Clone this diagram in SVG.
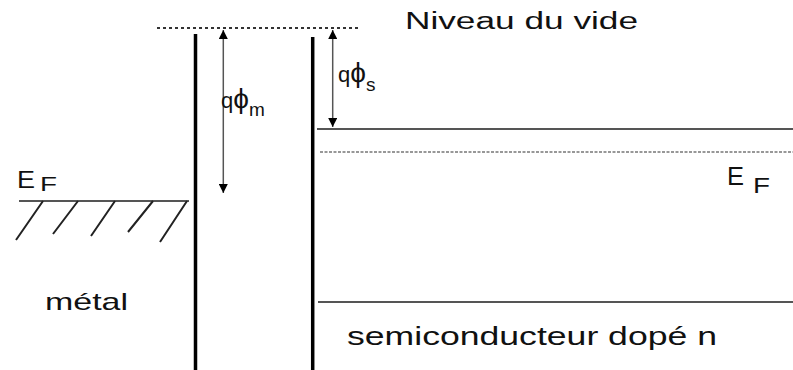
<svg xmlns="http://www.w3.org/2000/svg" width="793" height="370" viewBox="0 0 793 370">
<style>
text{font-family:"Liberation Sans","DejaVu Sans",sans-serif;fill:#111}
.wall{stroke:#000;stroke-width:3.5;fill:none}
.band{stroke:#555;stroke-width:2;fill:none}
.dot{stroke:#333;stroke-width:1.8;stroke-dasharray:3 3;fill:none}
.fdot{stroke:#777;stroke-width:1.6;stroke-dasharray:3 1.5;fill:none}
.arr{stroke:#555;stroke-width:1.5;fill:none;marker-start:url(#ah);marker-end:url(#ah)}
.hatch{stroke:#222;stroke-width:2;fill:none}
</style>
<defs>
<marker id="ah" viewBox="0 0 10 10" refX="10" refY="5" markerWidth="9" markerHeight="9" markerUnits="userSpaceOnUse" orient="auto-start-reverse">
<path d="M0,0 L10,5 L0,10 Z" fill="#000"/>
</marker>
</defs>
<rect width="793" height="370" fill="#fff"/>
<g id="vacuum">
<line class="dot" x1="157" y1="28" x2="358" y2="28"/>
<text x="405" y="29" font-size="23" textLength="233" lengthAdjust="spacingAndGlyphs">Niveau du vide</text>
</g>
<g id="metal">
<line class="wall" x1="195.5" y1="34" x2="195.5" y2="370"/>
<line class="band" x1="19" y1="201" x2="189" y2="201"/>
<path class="hatch" d="M43,201 L16,240 M78,201 L53,234 M115,201 L91,236 M153,201 L128,232 M187,201 L160,242"/>
<text x="17" y="188" font-size="23" textLength="18" lengthAdjust="spacingAndGlyphs">E</text>
<text x="40" y="191" font-size="20" textLength="17" lengthAdjust="spacingAndGlyphs">F</text>
<text x="45" y="310" font-size="24" textLength="83" lengthAdjust="spacingAndGlyphs">métal</text>
</g>
<g id="semiconductor">
<line class="wall" x1="312.7" y1="37" x2="312.7" y2="370"/>
<line class="band" x1="317" y1="129" x2="793" y2="129"/>
<line class="fdot" x1="320" y1="152" x2="793" y2="152"/>
<line class="band" x1="318" y1="302" x2="793" y2="302"/>
<text x="727" y="185" font-size="26" textLength="17" lengthAdjust="spacingAndGlyphs">E</text>
<text x="753" y="193" font-size="22" textLength="17" lengthAdjust="spacingAndGlyphs">F</text>
<text x="347" y="345" font-size="26" textLength="370" lengthAdjust="spacingAndGlyphs">semiconducteur dopé n</text>
</g>
<g id="connectors">
<line class="arr" x1="223.3" y1="30" x2="223.3" y2="193"/>
<line class="arr" x1="332.7" y1="30" x2="332.7" y2="127"/>
</g>
<g id="labels">
<text x="221" y="108" font-size="22">q<tspan font-size="28">ϕ</tspan><tspan font-size="19" dy="8">m</tspan></text>
<text x="338" y="82" font-size="22">q<tspan font-size="28">ϕ</tspan><tspan font-size="19" dy="9">s</tspan></text>
</g>
</svg>
